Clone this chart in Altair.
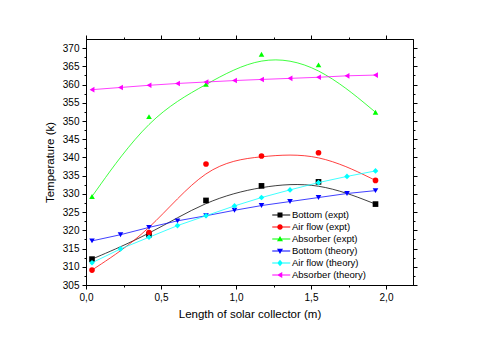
import altair as alt
import pandas as pd

series_names = ["Bottom (expt)", "Air flow (expt)", "Absorber (expt)",
                "Bottom (theory)", "Air flow (theory)", "Absorber (theory)"]

x_expt = [0.04, 0.42, 0.80, 1.17, 1.55, 1.93]
x_theory = [0.04, 0.23, 0.42, 0.61, 0.80, 0.99, 1.17, 1.36, 1.55, 1.74, 1.93]

bottom_expt = [312.1, 318.8, 328.2, 332.2, 333.3, 327.2]
airflow_expt = [309.1, 319.4, 338.2, 340.4, 341.3, 333.7]
absorber_expt = [329.3, 351.2, 360.1, 368.3, 365.4, 352.4]

bottom_theory = [317.1, 318.8, 320.8, 322.6, 324.0, 325.5, 326.8, 327.9, 329.0, 330.1, 330.9]
airflow_theory = [311.1, 314.9, 318.1, 321.3, 324.0, 326.7, 329.0, 331.1, 333.1, 334.8, 336.3]
absorber_theory = [358.6, 359.2, 359.8, 360.3, 360.7, 361.1, 361.4, 361.7, 362.0, 362.4, 362.6]

x_ticks = [0.0, 0.25, 0.5, 0.75, 1.0, 1.25, 1.5, 1.75, 2.0]
y_ticks = [305, 307.5, 310, 312.5, 315, 317.5, 320, 322.5, 325, 327.5, 330, 332.5,
           335, 337.5, 340, 342.5, 345, 347.5, 350, 352.5, 355, 357.5, 360, 362.5,
           365, 367.5, 370]

colors = ["#000000", "#ff0000", "#00ff00", "#0000ff", "#00ffff", "#ff00ff"]
shapes = ["square", "circle", "triangle-up", "triangle-down", "diamond", "triangle-left"]

line_part = "M-1.55,-0.1H2.05V0.1H-1.55Z"
legend_paths = [
    line_part + "M-0.5,-0.5H0.5V0.5H-0.5Z",
    line_part + "M-0.55,0A0.55,0.55 0 1,1 0.55,0A0.55,0.55 0 1,1 -0.55,0Z",
    line_part + "M0,-0.6L0.6,0.45H-0.6Z",
    line_part + "M0,0.6L-0.6,-0.45H0.6Z",
    line_part + "M0,-0.65L0.55,0L0,0.65L-0.55,0Z",
    line_part + "M-0.6,0L0.45,-0.6V0.6Z",
]

series_x = [x_expt, x_expt, x_expt, x_theory, x_theory, x_theory]
series_y = [bottom_expt, airflow_expt, absorber_expt, bottom_theory, airflow_theory, absorber_theory]

rows = []
for name, xs, ys in zip(series_names, series_x, series_y):
    for xv, yv in zip(xs, ys):
        rows.append({"series": name, "x": xv, "y": yv})
df = pd.DataFrame(rows)

FONT = "Liberation Sans"
xscale = alt.Scale(domain=[0, 2.18], nice=False, zero=False)
yscale = alt.Scale(domain=[305, 372.5], nice=False, zero=False)

tick_x = {"condition": {"test": "datum.value % 0.5 === 0", "value": 4}, "value": 2}
tick_y = {"condition": {"test": "datum.value % 5 === 0", "value": 4}, "value": 2}

axis_bottom = alt.Axis(orient="bottom", values=x_ticks, grid=False, title="Length of solar collector (m)",
                       labelExpr="datum.value % 0.5 === 0 ? replace(format(datum.value, '.1f'), '.', ',') : ''",
                       tickSize=tick_x, labelFont=FONT, labelFontSize=10, labelColor="black",
                       titleFont=FONT, titleFontSize=11.5, titleFontWeight="normal", titleColor="black",
                       labelPadding=3, titlePadding=6, domainColor="black", tickColor="black",
                       labelFlush=False, labelOverlap=False)
axis_left = alt.Axis(orient="left", values=y_ticks, grid=False, title="Temperature (k)",
                     labelExpr="datum.value % 5 === 0 ? format(datum.value, 'd') : ''",
                     tickSize=tick_y, labelFont=FONT, labelFontSize=10, labelColor="black",
                     titleFont=FONT, titleFontSize=11.5, titleFontWeight="normal", titleColor="black",
                     labelPadding=3, titlePadding=7, domainColor="black", tickColor="black",
                     labelFlush=False, labelOverlap=False)
axis_top = alt.Axis(orient="top", values=x_ticks, grid=False, title=None, labels=False,
                    tickSize=tick_x, domainColor="black", tickColor="black")
axis_right = alt.Axis(orient="right", values=y_ticks, grid=False, title=None, labels=False,
                      tickSize=tick_y, domainColor="black", tickColor="black")

layers = []
for i, name in enumerate(series_names):
    sub = df[df["series"] == name]
    if i == 0:
        ax_x, ax_y = axis_bottom, axis_left
    elif i == 1:
        ax_x, ax_y = axis_top, axis_right
    else:
        ax_x, ax_y = None, None
    interp = "basis" if i < 3 else "linear"
    line = alt.Chart(sub).mark_line(color=colors[i], strokeWidth=1, opacity=0.75,
                                    interpolate=interp).encode(
        x=alt.X("x:Q", scale=xscale, axis=ax_x),
        y=alt.Y("y:Q", scale=yscale, axis=ax_y),
    )
    pts = alt.Chart(sub).mark_point(color=colors[i], filled=True, opacity=1,
                                    shape=shapes[i], size=32).encode(
        x=alt.X("x:Q", scale=xscale, axis=None),
        y=alt.Y("y:Q", scale=yscale, axis=None),
    )
    layers += [line, pts]

legend = alt.Legend(orient="none", legendX=189, legendY=171, title=None, padding=0,
                    labelFont=FONT, labelFontSize=9.5, labelColor="black",
                    symbolSize=100, symbolOpacity=1, symbolStrokeWidth=0,
                    rowPadding=2, labelOffset=7)
legend_layer = alt.Chart(df).mark_point(filled=True, opacity=0).encode(
    x=alt.X("x:Q", scale=xscale, axis=None),
    y=alt.Y("y:Q", scale=yscale, axis=None),
    color=alt.Color("series:N", scale=alt.Scale(domain=series_names, range=colors), legend=legend),
    shape=alt.Shape("series:N", scale=alt.Scale(domain=series_names, range=legend_paths), legend=legend),
)
layers.append(legend_layer)

chart = alt.layer(*layers).resolve_axis(x="independent", y="independent").properties(
    width=327, height=246,
    autosize=alt.AutoSizeParams(type="none"),
    padding={"left": 78, "top": 31, "right": 40, "bottom": 40},
    background="white",
).configure_view(stroke="black", strokeWidth=1)

chart.save("out.html", embed_options={"renderer": "svg", "actions": False})
